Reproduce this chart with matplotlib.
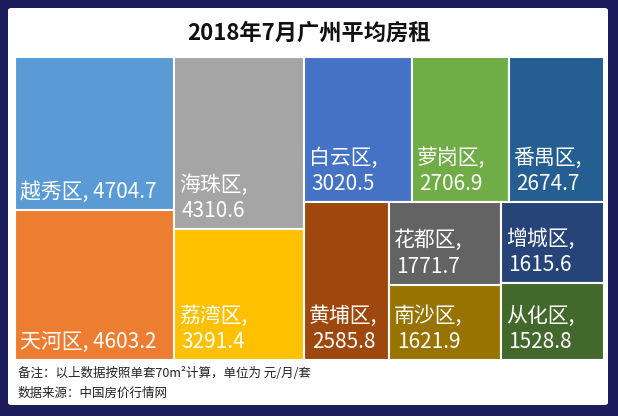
import matplotlib
matplotlib.use("Agg")
import matplotlib.pyplot as plt
from matplotlib.patches import Rectangle, FancyBboxPatch

plt.rcParams["font.family"] = ["Noto Sans CJK SC", "DejaVu Sans"]

# 2018年7月广州各区平均房租 (元/月/套)
districts = ["越秀区", "天河区", "海珠区", "荔湾区", "白云区", "萝岗区",
             "番禺区", "黄埔区", "花都区", "南沙区", "增城区", "从化区"]
rents = [4704.7, 4603.2, 4310.6, 3291.4, 3020.5, 2706.9,
         2674.7, 2585.8, 1771.7, 1621.9, 1615.6, 1528.8]
colors = ["#5B9BD5", "#ED7D31", "#A5A5A5", "#FFC000", "#4472C4", "#70AD47",
          "#255E91", "#9E480E", "#636363", "#997300", "#264478", "#43682B"]
single_line = {"越秀区", "天河区"}


def worst(row, side):
    s = sum(row)
    return max(max(side * side * r / (s * s), s * s / (side * side * r)) for r in row)


def squarify(areas, x, y, w, h):
    rects = []
    areas = list(areas)
    while areas:
        side = min(w, h)
        row = [areas[0]]
        i = 1
        while i < len(areas) and worst(row + [areas[i]], side) <= worst(row, side):
            row.append(areas[i])
            i += 1
        s = sum(row)
        if w >= h:
            cw = s / h
            cy = y
            for a in row:
                rects.append((x, cy, cw, a / cw))
                cy += a / cw
            x += cw
            w -= cw
        else:
            rh = s / w
            cx = x
            for a in row:
                rects.append((cx, y, a / rh, rh))
                cx += a / rh
            y += rh
            h -= rh
        areas = areas[i:]
    return rects


W, H = 589.0, 303.0
total = sum(rents)
rects = squarify([v / total * W * H for v in rents], 0, 0, W, H)

fig = plt.figure(figsize=(6.18, 4.16), dpi=100)
fig.patch.set_facecolor("#1c1c5c")
panel = FancyBboxPatch((8 / 618, 11 / 416), 600 / 618, 397 / 416,
                       boxstyle="round,pad=0,rounding_size=0.006",
                       transform=fig.transFigure, facecolor="white",
                       edgecolor="none", zorder=-10)
fig.patches.append(panel)

ax = fig.add_axes([15 / 618, 56 / 416, 589 / 618, 303 / 416])
ax.set_xlim(0, W)
ax.set_ylim(H, 0)
ax.axis("off")

for name, val, col, (x, y, w, h) in zip(districts, rents, colors, rects):
    ax.add_patch(Rectangle((x, y), w, h, facecolor=col, edgecolor="white", linewidth=1.5))
    if name in single_line:
        label = f"{name}, {val:.1f}"
    else:
        label = f"{name},\n{val:.1f}"
    ax.annotate(label, xy=(x, y + h), xytext=(5, 7), textcoords="offset pixels",
                ha="left", va="bottom", multialignment="center",
                color="white", fontsize=15, linespacing=1.25)

fig.text(0.5, 1 - 33 / 416, "2018年7月广州平均房租", ha="center", va="center",
         fontsize=16, fontweight="bold", color="#111111")
fig.text(18 / 618, 1 - 373 / 416, "备注：以上数据按照单套70m²计算，单位为 元/月/套",
         ha="left", va="center", fontsize=9, color="#222222")
fig.text(18 / 618, 1 - 393 / 416, "数据来源：中国房价行情网",
         ha="left", va="center", fontsize=9, color="#222222")

fig.savefig("out.png", dpi=100, facecolor=fig.get_facecolor())
